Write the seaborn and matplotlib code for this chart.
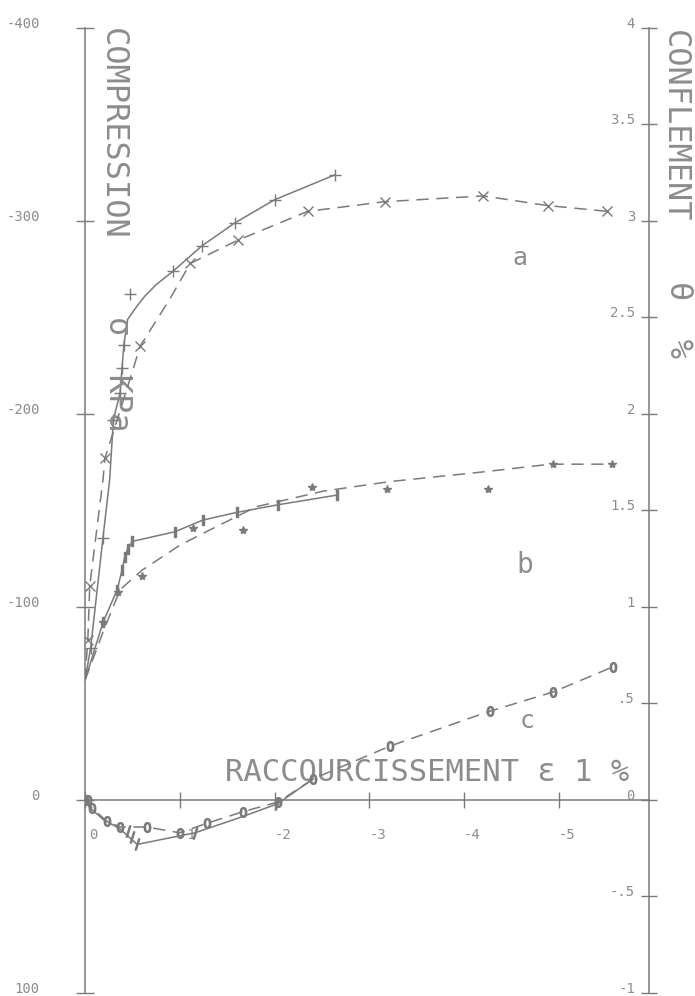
import matplotlib
matplotlib.use("Agg")
import matplotlib.pyplot as plt
import matplotlib.transforms as mtransforms
import seaborn as sns


GRAY = "#7a7a7a"
TEXT_GRAY = "#8c8c8c"
DASH = (0, (8, 5))

# curve a - solid: stress (kPa), dashed: swelling (%)
A_SOLID_X = [0, -0.06, -0.19, -0.26, -0.30, -0.37, -0.41, -0.45, -0.55, -0.63, -0.75, -0.93, -1.23, -1.58, -2.00, -2.64]
A_SOLID_Y = [-62, -79, -136, -166, -197, -211, -236, -249, -256, -261, -267, -274, -287, -299, -311, -324]
A_PLUS_X = [-0.06, -0.19, -0.30, -0.37, -0.39, -0.41, -0.47, -0.93, -1.23, -1.58, -2.00, -2.64]
A_PLUS_Y = [-79, -136, -197, -211, -224, -236, -262, -274, -287, -299, -311, -324]
A_DASH_X = [0, -0.03, -0.05, -0.19, -0.21, -0.50, -0.58, -0.90, -1.11, -1.61, -2.35, -3.16, -4.20, -4.88, -5.51]
A_DASH_Y = [0.62, 0.83, 1.11, 1.66, 1.77, 2.22, 2.35, 2.60, 2.78, 2.90, 3.05, 3.10, 3.13, 3.08, 3.05]
A_CROSS_X = [-0.03, -0.05, -0.21, -0.58, -1.11, -1.61, -2.35, -3.16, -4.20, -4.88, -5.51]
A_CROSS_Y = [0.83, 1.11, 1.77, 2.35, 2.78, 2.90, 3.05, 3.10, 3.13, 3.08, 3.05]

# curve b
B_SOLID_X = [0, -0.19, -0.34, -0.39, -0.42, -0.45, -0.50, -0.95, -1.24, -1.60, -2.04, -2.66]
B_SOLID_Y = [-62, -92, -109, -119, -126, -130, -134, -139, -145, -149, -153, -158]
B_DASH_X = [0, -0.19, -0.37, -0.60, -1.00, -1.32, -1.81, -2.51, -3.22, -4.20, -4.91, -5.56]
B_DASH_Y = [0.62, 0.87, 1.09, 1.19, 1.32, 1.40, 1.52, 1.60, 1.65, 1.70, 1.74, 1.74]
B_STAR_X = [-0.19, -0.35, -0.60, -1.14, -1.67, -2.39, -3.19, -4.25, -4.94, -5.56]
B_STAR_Y = [0.92, 1.08, 1.16, 1.41, 1.40, 1.62, 1.61, 1.61, 1.74, 1.74]

# curve c
C_SOLID_X = [0, -0.05, -0.19, -0.37, -0.55, -1.16, -1.64, -2.03, -2.41]
C_SOLID_Y = [0, 4, 10, 15, 23, 17, 9, 2, -11]
C_HATCH_X = [-0.45, -0.50, -0.55, -1.16, -2.03]
C_HATCH_Y = [16, 19, 23, 17, 2]
C_DASH_X = [0, -0.03, -0.07, -0.23, -0.37, -0.65, -1.00, -1.29, -1.67, -2.04, -2.41, -3.22, -4.27, -4.94, -5.57]
C_DASH_Y = [0.0, 0.0, -0.04, -0.11, -0.14, -0.14, -0.17, -0.12, -0.06, -0.01, 0.11, 0.28, 0.46, 0.56, 0.69]

X_TICKS = [0, -1, -2, -3, -4, -5]
X_LABELS = ["0", "-1", "-2", "-3", "-4", "-5"]
LEFT_TICKS = [-400, -300, -200, -100, 0, 100]
LEFT_LABELS = ["-400", "-300", "-200", "-100", "0", "100"]
RIGHT_TICKS = [4, 3.5, 3, 2.5, 2, 1.5, 1, 0.5, 0, -0.5, -1]
RIGHT_LABELS = ["4", "3.5", "3", "2.5", "2", "1.5", "1", ".5", "0", "-.5", "-1"]


def line(ax, x, y, dashed=False):
    sns.lineplot(x=x, y=y, ax=ax, color=GRAY, lw=1.1, sort=False, estimator=None,
                 linestyle=DASH if dashed else "-")


def marks(ax, x, y, marker, size):
    sns.lineplot(x=x, y=y, ax=ax, color=GRAY, sort=False, estimator=None, linestyle="none",
                 marker=marker, markersize=size, markeredgewidth=1.0, markeredgecolor=GRAY)


def main() -> None:
    sns.set_theme(style="white")
    plt.rcParams["font.family"] = ["DejaVu Sans Mono", "DejaVu Sans"]

    fig = plt.figure(figsize=(6.95, 9.96), dpi=100)
    ax = fig.add_axes([85 / 695, 3 / 996, 564 / 695, 965 / 996])
    ax2 = ax.twinx()

    line(ax, A_SOLID_X, A_SOLID_Y)
    marks(ax, A_PLUS_X, A_PLUS_Y, "+", 8)
    line(ax, B_SOLID_X, B_SOLID_Y)
    marks(ax, B_SOLID_X[1:], B_SOLID_Y[1:], r"$\mathrm{I}$", 7)
    line(ax, C_SOLID_X, C_SOLID_Y)
    marks(ax, C_HATCH_X, C_HATCH_Y, "$/$", 8)

    line(ax2, A_DASH_X, A_DASH_Y, dashed=True)
    marks(ax2, A_CROSS_X, A_CROSS_Y, "x", 7)
    line(ax2, B_DASH_X, B_DASH_Y, dashed=True)
    marks(ax2, B_STAR_X, B_STAR_Y, "*", 6)
    line(ax2, C_DASH_X, C_DASH_Y, dashed=True)
    marks(ax2, C_DASH_X, C_DASH_Y, "$0$", 7)

    ax.set_xlim(0, -5.95)
    ax.set_ylim(100, -400)
    ax2.set_ylim(-1, 4)

    for a in (ax, ax2):
        a.set_xlabel("")
        a.set_ylabel("")
        a.set_facecolor("none")
        a.grid(False)
        for side in ("top", "bottom", "left", "right"):
            a.spines[side].set_visible(False)

    ax.spines["left"].set_visible(True)
    ax.spines["bottom"].set_visible(True)
    ax.spines["bottom"].set_position(("data", 0))
    ax2.spines["right"].set_visible(True)
    for sp in (ax.spines["left"], ax.spines["bottom"], ax2.spines["right"]):
        sp.set_color(GRAY)
        sp.set_linewidth(1.1)

    ax.set_xticks(X_TICKS, X_LABELS)
    ax.tick_params(axis="x", direction="inout", length=12, width=1, color=GRAY,
                   labelcolor=TEXT_GRAY, labelsize=10, pad=14, bottom=True)
    shift_x = mtransforms.ScaledTranslation(6 / 72, 0, fig.dpi_scale_trans)
    for lbl in ax.get_xticklabels():
        lbl.set_transform(lbl.get_transform() + shift_x)

    ax.set_yticks(LEFT_TICKS, LEFT_LABELS)
    ax.tick_params(axis="y", direction="inout", length=13, width=1, color=GRAY,
                   labelcolor=TEXT_GRAY, labelsize=10, pad=26, left=True)

    ax2.set_yticks(RIGHT_TICKS, RIGHT_LABELS)
    ax2.tick_params(axis="y", direction="inout", length=11, width=1, color=GRAY,
                    labelcolor=TEXT_GRAY, labelsize=10, pad=-15.6, right=True)

    # plotter labels sit a little above their ticks
    shift_up = mtransforms.ScaledTranslation(0, 4 / 72, fig.dpi_scale_trans)
    for lbl in ax.get_yticklabels():
        lbl.set_transform(lbl.get_transform() + shift_up)
    for lbl in ax2.get_yticklabels():
        lbl.set_horizontalalignment("right")
        lbl.set_transform(lbl.get_transform() + shift_up)

    big = dict(color=TEXT_GRAY, ha="center", va="center", clip_on=False)
    ax.text(-0.285, -345, "COMPRESSION", rotation=-90, fontsize=23, **big)
    ax.text(-0.34, -221, "σ  KPa", rotation=-90, fontsize=23, **big)
    ax.text(-6.22, -349, "CONFLEMENT", rotation=-90, fontsize=23, **big)
    ax.text(-6.26, -249, "θ  %", rotation=-90, fontsize=23, **big)
    ax.text(-3.61, -14, "RACCOURCISSEMENT ε 1 %", fontsize=22, **big)
    ax.text(-4.59, -281, "a", fontsize=18, **big)
    ax.text(-4.64, -122, "b", fontsize=20, **big)
    ax.text(-4.66, -41, "c", fontsize=18, **big)

    fig.savefig("out.png", dpi=100, facecolor="white")
    plt.close(fig)


if __name__ == "__main__":
    main()
